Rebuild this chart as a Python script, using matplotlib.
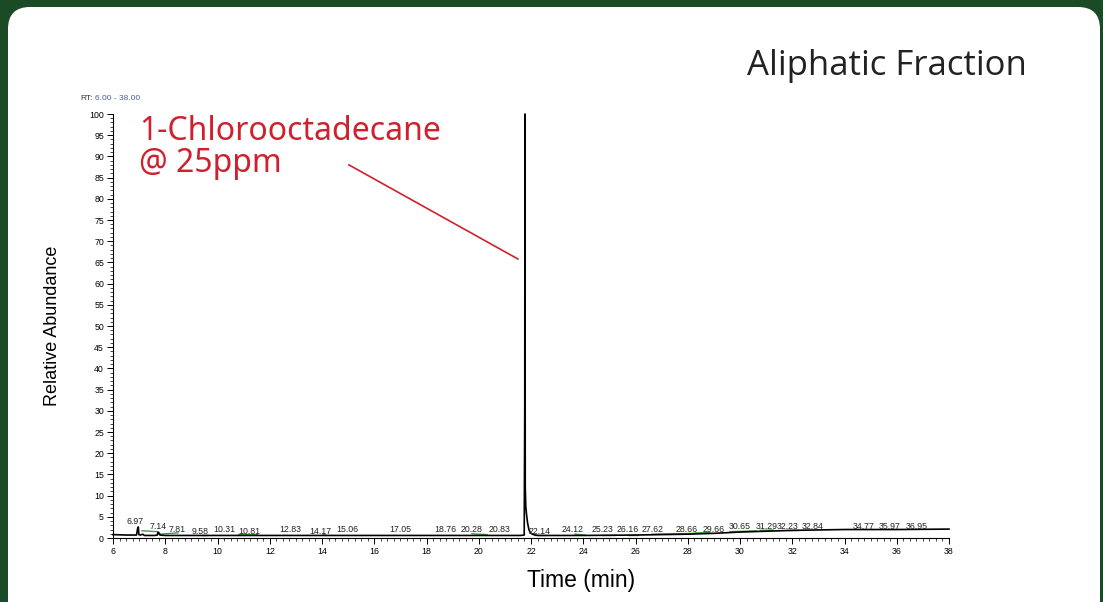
import numpy as np
import matplotlib
matplotlib.use("Agg")
import matplotlib.pyplot as plt
from matplotlib.patches import FancyBboxPatch
from matplotlib.transforms import IdentityTransform
from matplotlib.ticker import MultipleLocator

# chromatogram trace (time in min, relative abundance in %)
trace_t = [6.0, 6.5, 6.9, 6.95, 6.97, 6.99, 7.05, 7.14, 7.2, 7.6, 7.7, 7.72, 7.75, 7.8,
           8.0, 9.0, 10.0, 11.0, 12.0, 14.0, 16.0, 18.0, 20.0, 21.0, 21.6, 21.74,
           21.76, 21.77, 21.78, 21.8, 21.83, 21.87, 21.92, 21.97, 22.05, 22.15, 22.3,
           23.0, 24.0, 26.0, 27.0, 28.0, 29.0, 30.0, 31.0, 32.0, 33.0, 34.0, 36.0, 38.0]
trace_y = [0.8, 0.7, 0.7, 2.5, 2.6, 0.8, 0.7, 0.9, 0.6, 0.6, 0.7, 1.4, 1.3, 0.7,
           0.6, 0.6, 0.6, 0.6, 0.6, 0.6, 0.6, 0.6, 0.6, 0.6, 0.6, 0.7,
           30.0, 100.0, 12.0, 7.5, 5.5, 3.5, 2.0, 1.3, 0.9, 0.7, 0.6,
           0.6, 0.6, 0.7, 0.8, 0.9, 1.1, 1.4, 1.6, 1.8, 1.9, 2.0, 2.0, 2.1]

# labelled peaks: retention time, label position and label height
peak_rt = [6.97, 7.14, 7.81, 9.58, 10.31, 10.81, 12.83, 14.17, 15.06, 17.05, 18.76,
           20.28, 20.83, 22.14, 24.12, 25.23, 26.16, 27.62, 28.66, 29.66, 30.65,
           31.29, 32.23, 32.84, 34.77, 35.97, 36.95]
label_x = [6.85, 7.72, 8.45, 9.33, 10.25, 11.21, 12.78, 13.92, 14.96, 16.99, 18.71,
           19.74, 20.78, 22.31, 23.61, 24.72, 25.71, 26.67, 27.97, 29.00, 30.00,
           31.03, 31.84, 32.79, 34.75, 35.74, 36.78]
label_y = [3.8, 2.8, 2.1, 1.5, 1.9, 1.5, 1.9, 1.5, 1.9, 1.9, 1.9,
           1.9, 1.9, 1.5, 1.9, 1.9, 1.9, 1.9, 2.1, 2.1, 2.6,
           2.8, 2.6, 2.8, 2.8, 2.8, 2.8]

# green integration baselines (start, end, y_start, y_end)
base_x0 = [7.11, 7.76, 9.41, 10.78, 14.04, 19.74, 22.15, 23.68, 24.72, 25.71, 26.63, 27.59, 28.28, 29.62, 30.77, 31.80]
base_x1 = [7.68, 8.49, 9.60, 11.51, 14.17, 20.32, 22.54, 24.07, 25.22, 26.10, 27.59, 28.28, 28.85, 30.65, 31.26, 32.22]
base_y0 = [1.7, 0.9, 0.8, 0.9, 0.9, 1.0, 0.8, 0.9, 0.8, 0.8, 0.9, 1.0, 1.2, 1.5, 1.8, 1.9]
base_y1 = [1.5, 1.2, 0.8, 0.9, 0.6, 0.8, 0.8, 0.7, 0.8, 0.8, 1.0, 1.1, 1.3, 1.7, 1.9, 1.9]

fig = plt.figure(figsize=(11.03, 6.02), dpi=100)
fig.patch.set_facecolor("#1b4a27")
# white rounded panel, in pixels
panel = FancyBboxPatch((8, -30), 1092, 602 - 7 + 30,
                       boxstyle="round,pad=0,rounding_size=22",
                       transform=IdentityTransform(), facecolor="white", edgecolor="none",
                       zorder=-10)
fig.patches.append(panel)

ax = fig.add_axes([113 / 1103, 1 - 538 / 602, (949 - 113) / 1103, (538 - 114) / 602])
ax.set_facecolor("none")
ax.set_zorder(5)

for x0, x1, y0, y1 in zip(base_x0, base_x1, base_y0, base_y1):
    ax.plot([x0, x1], [y0, y1], color="#3aa33a", lw=1.0)
ax.plot(trace_t, trace_y, color="black", lw=1.2, clip_on=False)

for lx, rt, ly in zip(label_x, peak_rt, label_y):
    ax.text(lx, ly, "%.2f" % rt, ha="center", va="center", fontsize=6.3,
            family="Liberation Sans", color="#222222")

ax.set_xlim(6, 38)
ax.set_ylim(0, 100)
for s in ["top", "right"]:
    ax.spines[s].set_visible(False)
ax.spines["left"].set_linewidth(0.8)
ax.spines["bottom"].set_linewidth(0.8)
ax.xaxis.set_major_locator(MultipleLocator(2))
ax.xaxis.set_minor_locator(MultipleLocator(0.25))
ax.yaxis.set_major_locator(MultipleLocator(5))
ax.yaxis.set_minor_locator(MultipleLocator(1))
ax.tick_params(which="major", length=4.5, width=0.7, labelsize=6.3, pad=2)
ax.tick_params(which="minor", length=2.5, width=0.5)
for lab in ax.get_xticklabels() + ax.get_yticklabels():
    lab.set_family("Liberation Sans")

ax.set_xlabel("Time (min)", family="Liberation Sans", fontsize=16.5, labelpad=10)
ax.xaxis.set_label_coords((581 - 113) / (949 - 113), -0.072)
ax.set_ylabel("Relative Abundance", family="Liberation Sans", fontsize=13, labelpad=20)

# annotation
ax.text(7.0, 99.8, "1-Chlorooctadecane\n@ 25ppm", color="#d0202e", fontsize=23,
        family="Noto Sans", va="top", ha="left", linespacing=0.95)
ax.plot([15.03, 21.5], [88.0, 65.8], color="#d0202e", lw=1.2)

fig.text(80 / 1103, 1 - 99 / 602, "RT:", fontsize=6, family="Liberation Sans",
         color="#333333", va="center")
fig.text(95 / 1103, 1 - 99 / 602, "6.00 - 38.00", fontsize=6, family="Liberation Sans",
         color="#4a5aa0", va="center")
fig.text(1027 / 1103, 1 - 66 / 602, "Aliphatic Fraction", fontsize=25, family="Open Sans",
         color="#222222", ha="right", va="center")

fig.savefig("out.png", dpi=100, facecolor=fig.get_facecolor())
